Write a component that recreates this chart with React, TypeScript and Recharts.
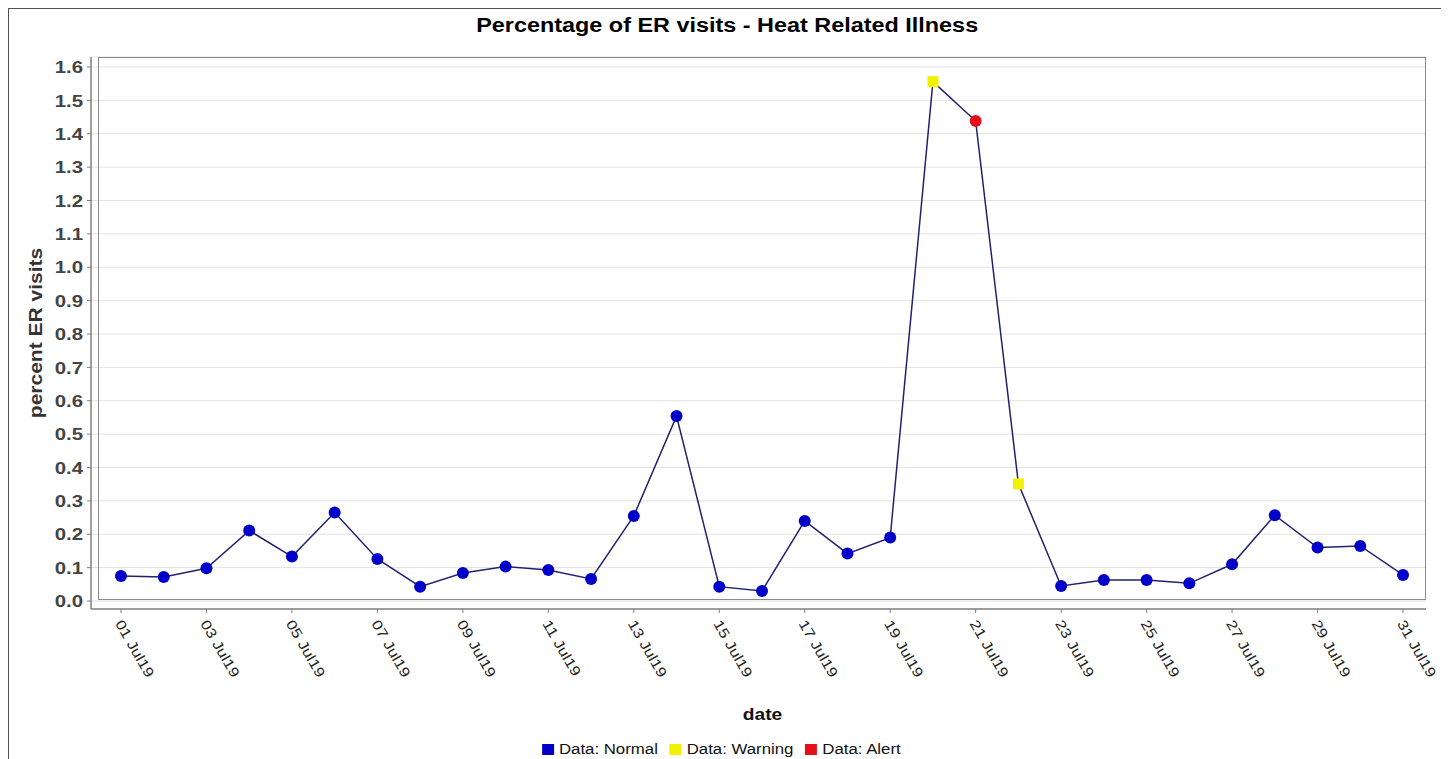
import React from 'react';
import { LineChart, Line, XAxis, YAxis, CartesianGrid } from 'recharts';

const dates = [
  '01 Jul19', '02 Jul19', '03 Jul19', '04 Jul19', '05 Jul19', '06 Jul19', '07 Jul19', '08 Jul19',
  '09 Jul19', '10 Jul19', '11 Jul19', '12 Jul19', '13 Jul19', '14 Jul19', '15 Jul19', '16 Jul19',
  '17 Jul19', '18 Jul19', '19 Jul19', '20 Jul19', '21 Jul19', '22 Jul19', '23 Jul19', '24 Jul19',
  '25 Jul19', '26 Jul19', '27 Jul19', '28 Jul19', '29 Jul19', '30 Jul19', '31 Jul19',
];

const percents = [
  0.075, 0.072, 0.098, 0.211, 0.133, 0.265, 0.126, 0.043,
  0.084, 0.103, 0.093, 0.066, 0.255, 0.554, 0.043, 0.030,
  0.240, 0.142, 0.190, 1.556, 1.438, 0.351, 0.045, 0.063,
  0.063, 0.053, 0.110, 0.257, 0.160, 0.165, 0.078,
];

const statuses = [
  'normal', 'normal', 'normal', 'normal', 'normal', 'normal', 'normal', 'normal',
  'normal', 'normal', 'normal', 'normal', 'normal', 'normal', 'normal', 'normal',
  'normal', 'normal', 'normal', 'warning', 'alert', 'warning', 'normal', 'normal',
  'normal', 'normal', 'normal', 'normal', 'normal', 'normal', 'normal',
];

const yTicks = [0, 0.1, 0.2, 0.3, 0.4, 0.5, 0.6, 0.7, 0.8, 0.9, 1.0, 1.1, 1.2, 1.3, 1.4, 1.5, 1.6];

const legendItems = [
  { key: 'normal', label: 'Data: Normal' },
  { key: 'warning', label: 'Data: Warning' },
  { key: 'alert', label: 'Data: Alert' },
];

const statusColors: Record<string, string> = {
  normal: '#0000c8',
  warning: '#f2f200',
  alert: '#e4101c',
};

const data = dates.map((d, i) => ({ date: d, value: percents[i], status: statuses[i] }));

const FONT = '"Liberation Sans", Arial, sans-serif';

const YTick = (props: any) => {
  const { x, y, payload } = props;
  return (
    <g transform={`translate(${x},${y})`}>
      <text
        transform="scale(1.2,1)"
        textAnchor="end"
        dy="0.36em"
        fontSize={17}
        fontWeight="bold"
        fill="#444"
        fontFamily={FONT}
      >
        {Number(payload.value).toFixed(1)}
      </text>
    </g>
  );
};

const XTick = (props: any) => {
  const { x, y, payload } = props;
  return (
    <g transform={`translate(${x - 2},${y})`}>
      <text
        transform="rotate(60) scale(1.2,1)"
        textAnchor="start"
        dy="0.36em"
        fontSize={14}
        fill="#222"
        fontFamily={FONT}
      >
        {payload.value}
      </text>
    </g>
  );
};

const YLabel = (props: any) => {
  const vb = props.viewBox || { x: 0, y: 0, width: 0, height: 0 };
  const cx = vb.x + 27;
  const cy = vb.y + vb.height / 2;
  return (
    <text
      transform={`translate(${cx},${cy}) rotate(-90) scale(1.2,1)`}
      textAnchor="middle"
      dy="0.36em"
      fontSize={17.5}
      fontWeight="bold"
      fill="#333"
      fontFamily={FONT}
    >
      percent ER visits
    </text>
  );
};

const XLabel = (props: any) => {
  const vb = props.viewBox || { x: 0, y: 0, width: 0, height: 0 };
  const cx = vb.x + vb.width / 2 + 4;
  const cy = vb.y + 105;
  return (
    <text
      transform={`translate(${cx},${cy}) scale(1.2,1)`}
      textAnchor="middle"
      dy="0.36em"
      fontSize={16}
      fontWeight="bold"
      fill="#111"
      fontFamily={FONT}
    >
      date
    </text>
  );
};

const StatusDot = (props: any) => {
  const { cx, cy, index, payload } = props;
  if (cx == null || cy == null) return <g key={`d-${index}`} />;
  const s = payload.status;
  const color = statusColors[s];
  if (s === 'warning') {
    return <rect key={`d-${index}`} x={cx - 5.5} y={cy - 5.5} width={11} height={11} fill={color} />;
  }
  return <circle key={`d-${index}`} cx={cx} cy={cy} r={6} fill={color} />;
};

export default function App() {
  return (
    <div
      style={{
        position: 'relative',
        width: 1436,
        height: 760,
        border: '1px solid #555',
        background: '#fff',
        fontFamily: FONT,
      }}
    >
      <div
        style={{
          position: 'absolute',
          top: 4,
          left: 0,
          width: '100%',
          textAlign: 'center',
          lineHeight: '24px',
        }}
      >
        <span
          style={{
            display: 'inline-block',
            transform: 'scaleX(1.2)',
            fontSize: 19.5,
            fontWeight: 'bold',
            color: '#000',
          }}
        >
          Percentage of ER visits - Heat Related Illness
        </span>
      </div>

      <div style={{ position: 'absolute', top: 0, left: 0 }}>
        <LineChart
          width={1436}
          height={750}
          data={data}
          margin={{ top: 48, right: 19, left: 0, bottom: 50 }}
        >
          <CartesianGrid vertical={false} stroke="#e2e2e2" strokeWidth={1} />
          <XAxis
            dataKey="date"
            type="category"
            interval={1}
            padding={{ left: 30, right: 23 }}
            height={100}
            tickSize={4}
            tickMargin={8}
            tick={<XTick />}
            axisLine={{ stroke: '#808080', strokeWidth: 1.5 }}
            tickLine={{ stroke: '#808080' }}
            label={<XLabel />}
          />
          <YAxis
            type="number"
            domain={[0, 1.6]}
            ticks={yTicks}
            padding={{ top: 10, bottom: 8 }}
            width={82}
            tickSize={4}
            tickMargin={4}
            tick={<YTick />}
            axisLine={{ stroke: '#808080', strokeWidth: 1.5 }}
            tickLine={{ stroke: '#808080' }}
            label={<YLabel />}
            interval={0}
          />
          <Line
            type="linear"
            dataKey="value"
            stroke="#22226e"
            strokeWidth={1.5}
            dot={(p: any) => <StatusDot {...p} />}
            activeDot={false}
            isAnimationActive={false}
          />
        </LineChart>
      </div>

      <div
        style={{
          position: 'absolute',
          left: 89,
          top: 48,
          width: 1328,
          height: 543,
          border: '1.5px solid #8a8a8a',
          boxSizing: 'border-box',
          pointerEvents: 'none',
        }}
      />

      <div
        style={{
          position: 'absolute',
          top: 731,
          left: 0,
          width: '100%',
          display: 'flex',
          justifyContent: 'center',
        }}
      >
        <div
          style={{
            display: 'flex',
            alignItems: 'center',
            transform: 'scaleX(1.2)',
            height: 18,
          }}
        >
          {legendItems.map((it) => (
            <div key={it.key} style={{ display: 'flex', alignItems: 'center', marginRight: 10 }}>
              <span
                style={{
                  display: 'inline-block',
                  width: 10,
                  height: 11,
                  background: statusColors[it.key],
                  marginRight: 4,
                }}
              />
              <span style={{ fontSize: 14, color: '#111', lineHeight: '18px' }}>{it.label}</span>
            </div>
          ))}
        </div>
      </div>
    </div>
  );
}
